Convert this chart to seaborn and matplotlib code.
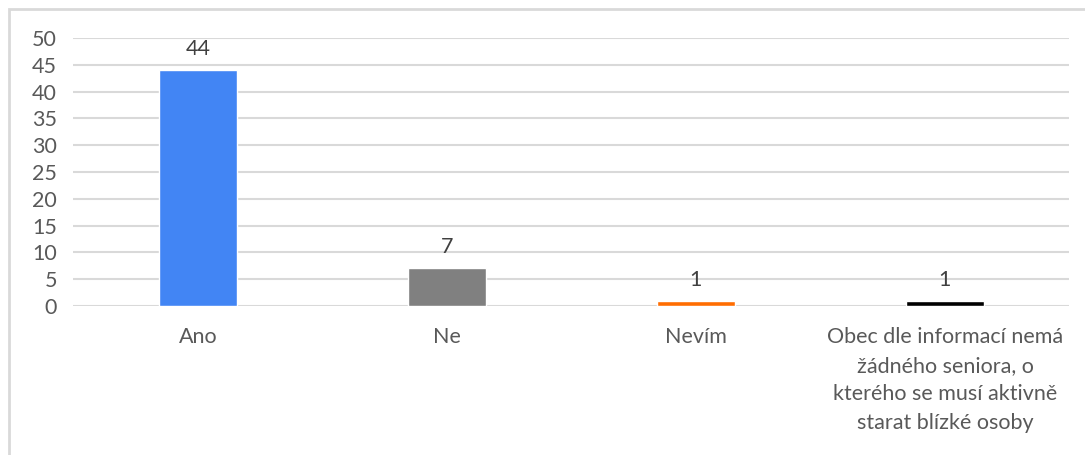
import matplotlib
matplotlib.use("Agg")
import matplotlib.pyplot as plt
import seaborn as sns
import pandas as pd
from matplotlib.patches import Rectangle

# ===== data =====
categories = ["Ano", "Ne", "Nevím",
              "Obec dle informací nemá\nžádného seniora, o\nkterého se musí aktivně\nstarat blízké osoby"]
values = [44, 7, 1, 1]
colors = ["#4285F4", "#808080", "#FF6D01", "#000000"]
y_ticks = [0, 5, 10, 15, 20, 25, 30, 35, 40, 45, 50]

df = pd.DataFrame({"kategorie": categories, "pocet": values})

sns.set_style("white")
plt.rcParams['font.family'] = ['Lato', 'DejaVu Sans']

fig = plt.figure(figsize=(10.85, 4.55), dpi=100)
ax = fig.add_axes([0.0677, 0.3275, 0.918, 0.589])

sns.barplot(data=df, x="kategorie", y="pocet", hue="kategorie",
            palette=colors, legend=False, width=0.31, ax=ax, saturation=1)

ax.set_ylim(0, 50)
ax.set_yticks(y_ticks)
ax.yaxis.grid(True, color="#d9d9d9", linewidth=1.5)
ax.set_axisbelow(True)
for s in ax.spines.values():
    s.set_visible(False)
ax.tick_params(axis="both", length=0, labelsize=15.5, colors="#595959")
ax.tick_params(axis="x", pad=15)
ax.tick_params(axis="y", pad=12)
for lbl in ax.get_xticklabels():
    lbl.set_linespacing(1.55)
ax.set_xlabel("")
ax.set_ylabel("")

# popisky hodnot
for cont in ax.containers:
    ax.bar_label(cont, padding=8, fontsize=15.5, color="#404040")

# ramecek kolem grafu
fig.patches.append(Rectangle((9 / 1085, -0.1), 1.2, 1 - 9 / 455 + 0.1,
                             transform=fig.transFigure, fill=False,
                             edgecolor="#d9d9d9", linewidth=2))

plt.savefig("out.png", dpi=100)
